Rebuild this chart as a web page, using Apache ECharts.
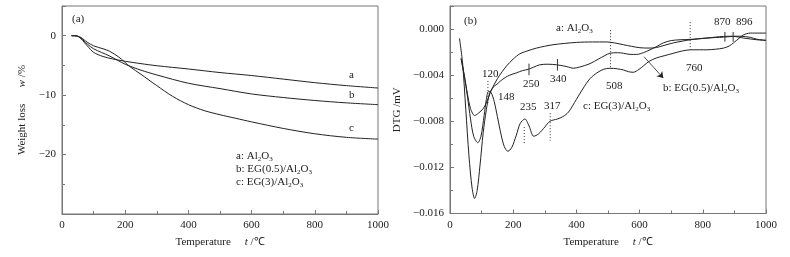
<!DOCTYPE html>
<html>
<head>
<meta charset="utf-8">
<script src="https://cdn.jsdelivr.net/npm/echarts@6/dist/echarts.min.js"></script>
<style>
  html, body {margin: 0; padding: 0; background: #fff;}
  #chart {width: 790px; height: 257px;}
</style>
</head>
<body>
<div id="chart"></div>
<script>
// TG curves, weight loss w/% vs temperature
const tgA = [[30,0],[40,0],[50,-0.1],[60,-0.5],[70,-1.1],[80,-1.7],[100,-2.8],[130,-3.5],[160,-3.9],[200,-4.3],[250,-4.7],[300,-5.05],[400,-5.6],[500,-6.2],[600,-6.7],[700,-7.3],[800,-7.9],[900,-8.4],[1000,-8.8]];
const tgB = [[30,0],[40,0],[50,-0.1],[60,-0.4],[70,-0.9],[80,-1.4],[100,-2.2],[150,-3.4],[200,-4.8],[250,-5.8],[300,-6.6],[400,-8.0],[500,-8.9],[600,-9.8],[700,-10.4],[800,-10.9],[900,-11.3],[1000,-11.6]];
const tgC = [[30,0],[40,0],[50,-0.1],[60,-0.3],[70,-0.7],[80,-1.1],[100,-1.7],[130,-2.2],[150,-2.6],[180,-3.6],[215,-5.2],[250,-6.5],[300,-8.4],[350,-10.2],[400,-11.6],[450,-12.6],[500,-13.3],[550,-13.9],[600,-14.5],[700,-15.6],[800,-16.5],[900,-17.1],[1000,-17.4]];

// DTG curves, values in 1e-3 mV
const dtgA = [[35,-2.5],[45,-4.0],[55,-5.6],[65,-6.9],[78,-7.5],[90,-7.3],[105,-6.9],[115,-6.4],[131,-5.3],[150,-4.3],[165,-3.7],[179,-3.2],[200,-2.6],[221,-2.15],[250,-1.85],[274,-1.65],[326,-1.36],[400,-1.16],[450,-1.12],[496,-1.12],[520,-1.2],[549,-1.36],[575,-1.5],[601,-1.62],[630,-1.65],[654,-1.6],[680,-1.4],[707,-1.2],[735,-1.05],[760,-0.93],[813,-0.78],[866,-0.64],[919,-0.62],[950,-0.72],[971,-0.88],[1000,-0.98]];
const dtgB = [[30,-0.8],[40,-3.0],[50,-7],[60,-11.0],[70,-13.8],[78,-14.7],[86,-14.0],[95,-11.8],[105,-9.0],[115,-7.0],[125,-5.6],[138,-5.0],[148,-4.8],[160,-4.5],[175,-4.2],[189,-4.0],[210,-3.8],[230,-3.6],[247,-3.5],[265,-3.3],[284,-3.1],[310,-3.05],[337,-3.1],[360,-3.2],[375,-3.3],[390,-3.4],[410,-3.3],[443,-3.0],[470,-2.6],[490,-2.3],[506,-2.1],[530,-2.05],[549,-2.1],[570,-2.2],[591,-2.2],[612,-2.05],[633,-1.8],[655,-1.5],[675,-1.2],[700,-1.0],[728,-0.93],[760,-0.9],[813,-0.78],[866,-0.7],[897,-0.64],[929,-0.78],[971,-0.93],[1000,-0.98]];
const dtgC = [[35,-2.6],[45,-4.0],[55,-5.8],[65,-7.8],[75,-9.3],[88,-9.86],[98,-9.3],[108,-7.5],[115,-6.1],[122,-5.4],[130,-5.5],[140,-6.3],[150,-7.6],[162,-9.2],[172,-10.2],[183,-10.6],[195,-10.3],[210,-9.2],[222,-8.2],[237,-7.8],[250,-8.4],[265,-9.3],[280,-9.1],[300,-8.5],[316,-8.0],[340,-7.8],[357,-7.6],[375,-7.2],[400,-6.1],[420,-5.2],[443,-4.3],[465,-3.8],[485,-3.5],[506,-3.4],[530,-3.45],[549,-3.55],[565,-3.7],[580,-3.75],[598,-3.5],[612,-3.2],[630,-2.8],[654,-2.5],[680,-2.3],[707,-2.1],[735,-1.9],[760,-1.8],[790,-1.8],[813,-1.8],[840,-1.75],[866,-1.65],[885,-1.45],[897,-1.2],[915,-0.8],[929,-0.5],[950,-0.35],[1000,-0.35]];

// dotted guide lines [T, top, bottom] and short solid ticks on curve b
const dotMarks = [[120,-4.5,-6.6],[235,-8.5,-9.9],[317,-7.3,-9.7],[508,-0.1,-3.3],[760,0.6,-1.8]];
const tickMarks = [[250,-3.0,-4.0],[340,-2.6,-3.6],[870,-0.25,-1.1],[896,-0.25,-1.1]];
const arrowB = [[614,-2.4],[675,-4.25]];

const FONT = "'Liberation Serif', 'Times New Roman', serif";
const k = v => v / 1000;
const toV = arr => arr.map(p => [p[0], k(p[1])]);

let myChart = echarts.init(document.getElementById('chart'));

const axisCommon = {
  axisLine: {onZero: false, lineStyle: {color: '#777', width: 1}},
  axisTick: {inside: true, length: 4, lineStyle: {color: '#777'}},
  minorTick: {show: true, splitNumber: 2, length: 3, lineStyle: {color: '#777'}},
  splitLine: {show: false},
  axisLabel: {color: '#222', fontFamily: FONT, fontSize: 11, margin: 6},
  nameTextStyle: {color: '#222', fontFamily: FONT, fontSize: 11, rich: {i: {fontStyle: 'italic', fontFamily: FONT, fontSize: 11}}}
};
const xLabel = Object.assign({}, axisCommon.axisLabel, {formatter: v => String(v)});

const lineSeries = (data, xi, yi) => ({
  type: 'line', xAxisIndex: xi, yAxisIndex: yi, data: data,
  showSymbol: false, smooth: 0.3, silent: true,
  lineStyle: {color: '#222', width: 1}
});

const vSeg = (m, dotted) => ({
  type: 'line', xAxisIndex: 1, yAxisIndex: 1, showSymbol: false, silent: true,
  data: [[m[0], k(m[1])], [m[0], k(m[2])]],
  lineStyle: {color: '#333', width: 1, type: dotted ? [1, 2] : 'solid'}
});

const sub = {fontSize: 7, lineHeight: 4, verticalAlign: 'bottom', fontFamily: FONT, fill: '#222'};
const txt = (x, y, text, extra) => ({
  type: 'text', left: x, top: y, silent: true,
  style: Object.assign({text: text, font: '11px ' + FONT, fill: '#222', rich: {s: sub, n: {fontSize: 11, lineHeight: 13, fontFamily: FONT}}}, extra || {})
});

myChart.setOption({
  animation: false,
  backgroundColor: '#fff',
  grid: [
    {left: 62, width: 316, top: 6, height: 208, show: true, borderColor: '#777', borderWidth: 1},
    {left: 450, width: 316, top: 6, height: 207.5, show: true, borderColor: '#777', borderWidth: 1}
  ],
  xAxis: [
    Object.assign({}, axisCommon, {gridIndex: 0, type: 'value', min: 0, max: 1000, interval: 200, axisLabel: xLabel,
      name: 'Temperature     {i|t} /℃', nameLocation: 'middle', nameGap: 23}),
    Object.assign({}, axisCommon, {gridIndex: 1, type: 'value', min: 0, max: 1000, interval: 200, axisLabel: xLabel,
      name: 'Temperature     {i|t} /℃', nameLocation: 'middle', nameGap: 23})
  ],
  yAxis: [
    Object.assign({}, axisCommon, {gridIndex: 0, type: 'value', min: -30, max: 5, interval: 10,
      name: 'Weight loss      {i|w} /%', nameLocation: 'middle', nameGap: 34,
      axisLabel: Object.assign({}, axisCommon.axisLabel, {
        formatter: v => (v === -30 || v > 0) ? '' : (v < 0 ? '\u2212' + Math.abs(v) : String(v))
      })}),
    Object.assign({}, axisCommon, {gridIndex: 1, type: 'value', min: -0.016, max: 0.002, interval: 0.004,
      name: 'DTG /mV', nameLocation: 'middle', nameGap: 47,
      axisLabel: Object.assign({}, axisCommon.axisLabel, {
        formatter: v => v > 0.0005 ? '' : (v < -0.0001 ? '\u2212' + Math.abs(v).toFixed(3) : '0.000')
      })})
  ],
  series: [
    lineSeries(tgA, 0, 0),
    lineSeries(tgB, 0, 0),
    lineSeries(tgC, 0, 0),
    lineSeries(toV(dtgA), 1, 1),
    lineSeries(toV(dtgB), 1, 1),
    lineSeries(toV(dtgC), 1, 1)
  ].concat(dotMarks.map(m => vSeg(m, true)))
   .concat(tickMarks.map(m => vSeg(m, false)))
   .concat([{
     type: 'lines', coordinateSystem: 'cartesian2d', xAxisIndex: 1, yAxisIndex: 1, silent: true,
     symbol: ['none', 'arrow'], symbolSize: 6,
     lineStyle: {color: '#222', width: 0.8, opacity: 1},
     data: [{coords: toV(arrowB)}]
   }]),
  graphic: [
    txt(72, 14, '(a)'),
    txt(349, 70, 'a'),
    txt(349, 90, 'b'),
    txt(349, 123, 'c'),
    txt(236, 151, '{n|a: Al}{s|2}{n|O}{s|3}'),
    txt(236, 164, '{n|b: EG(0.5)/Al}{s|2}{n|O}{s|3}'),
    txt(236, 177, '{n|c: EG(3)/Al}{s|2}{n|O}{s|3}'),
    txt(464, 16, '(b)'),
    txt(556, 23, '{n|a: Al}{s|2}{n|O}{s|3}'),
    txt(663, 83, '{n|b: EG(0.5)/Al}{s|2}{n|O}{s|3}'),
    txt(583, 101, '{n|c: EG(3)/Al}{s|2}{n|O}{s|3}'),
    txt(482, 69, '120'),
    txt(498, 92, '148'),
    txt(523, 79, '250'),
    txt(550, 74, '340'),
    txt(520, 102, '235'),
    txt(544, 101, '317'),
    txt(606, 81, '508'),
    txt(686, 63, '760'),
    txt(714, 17, '870'),
    txt(736, 17, '896')
  ]
});
</script>
</body>
</html>
